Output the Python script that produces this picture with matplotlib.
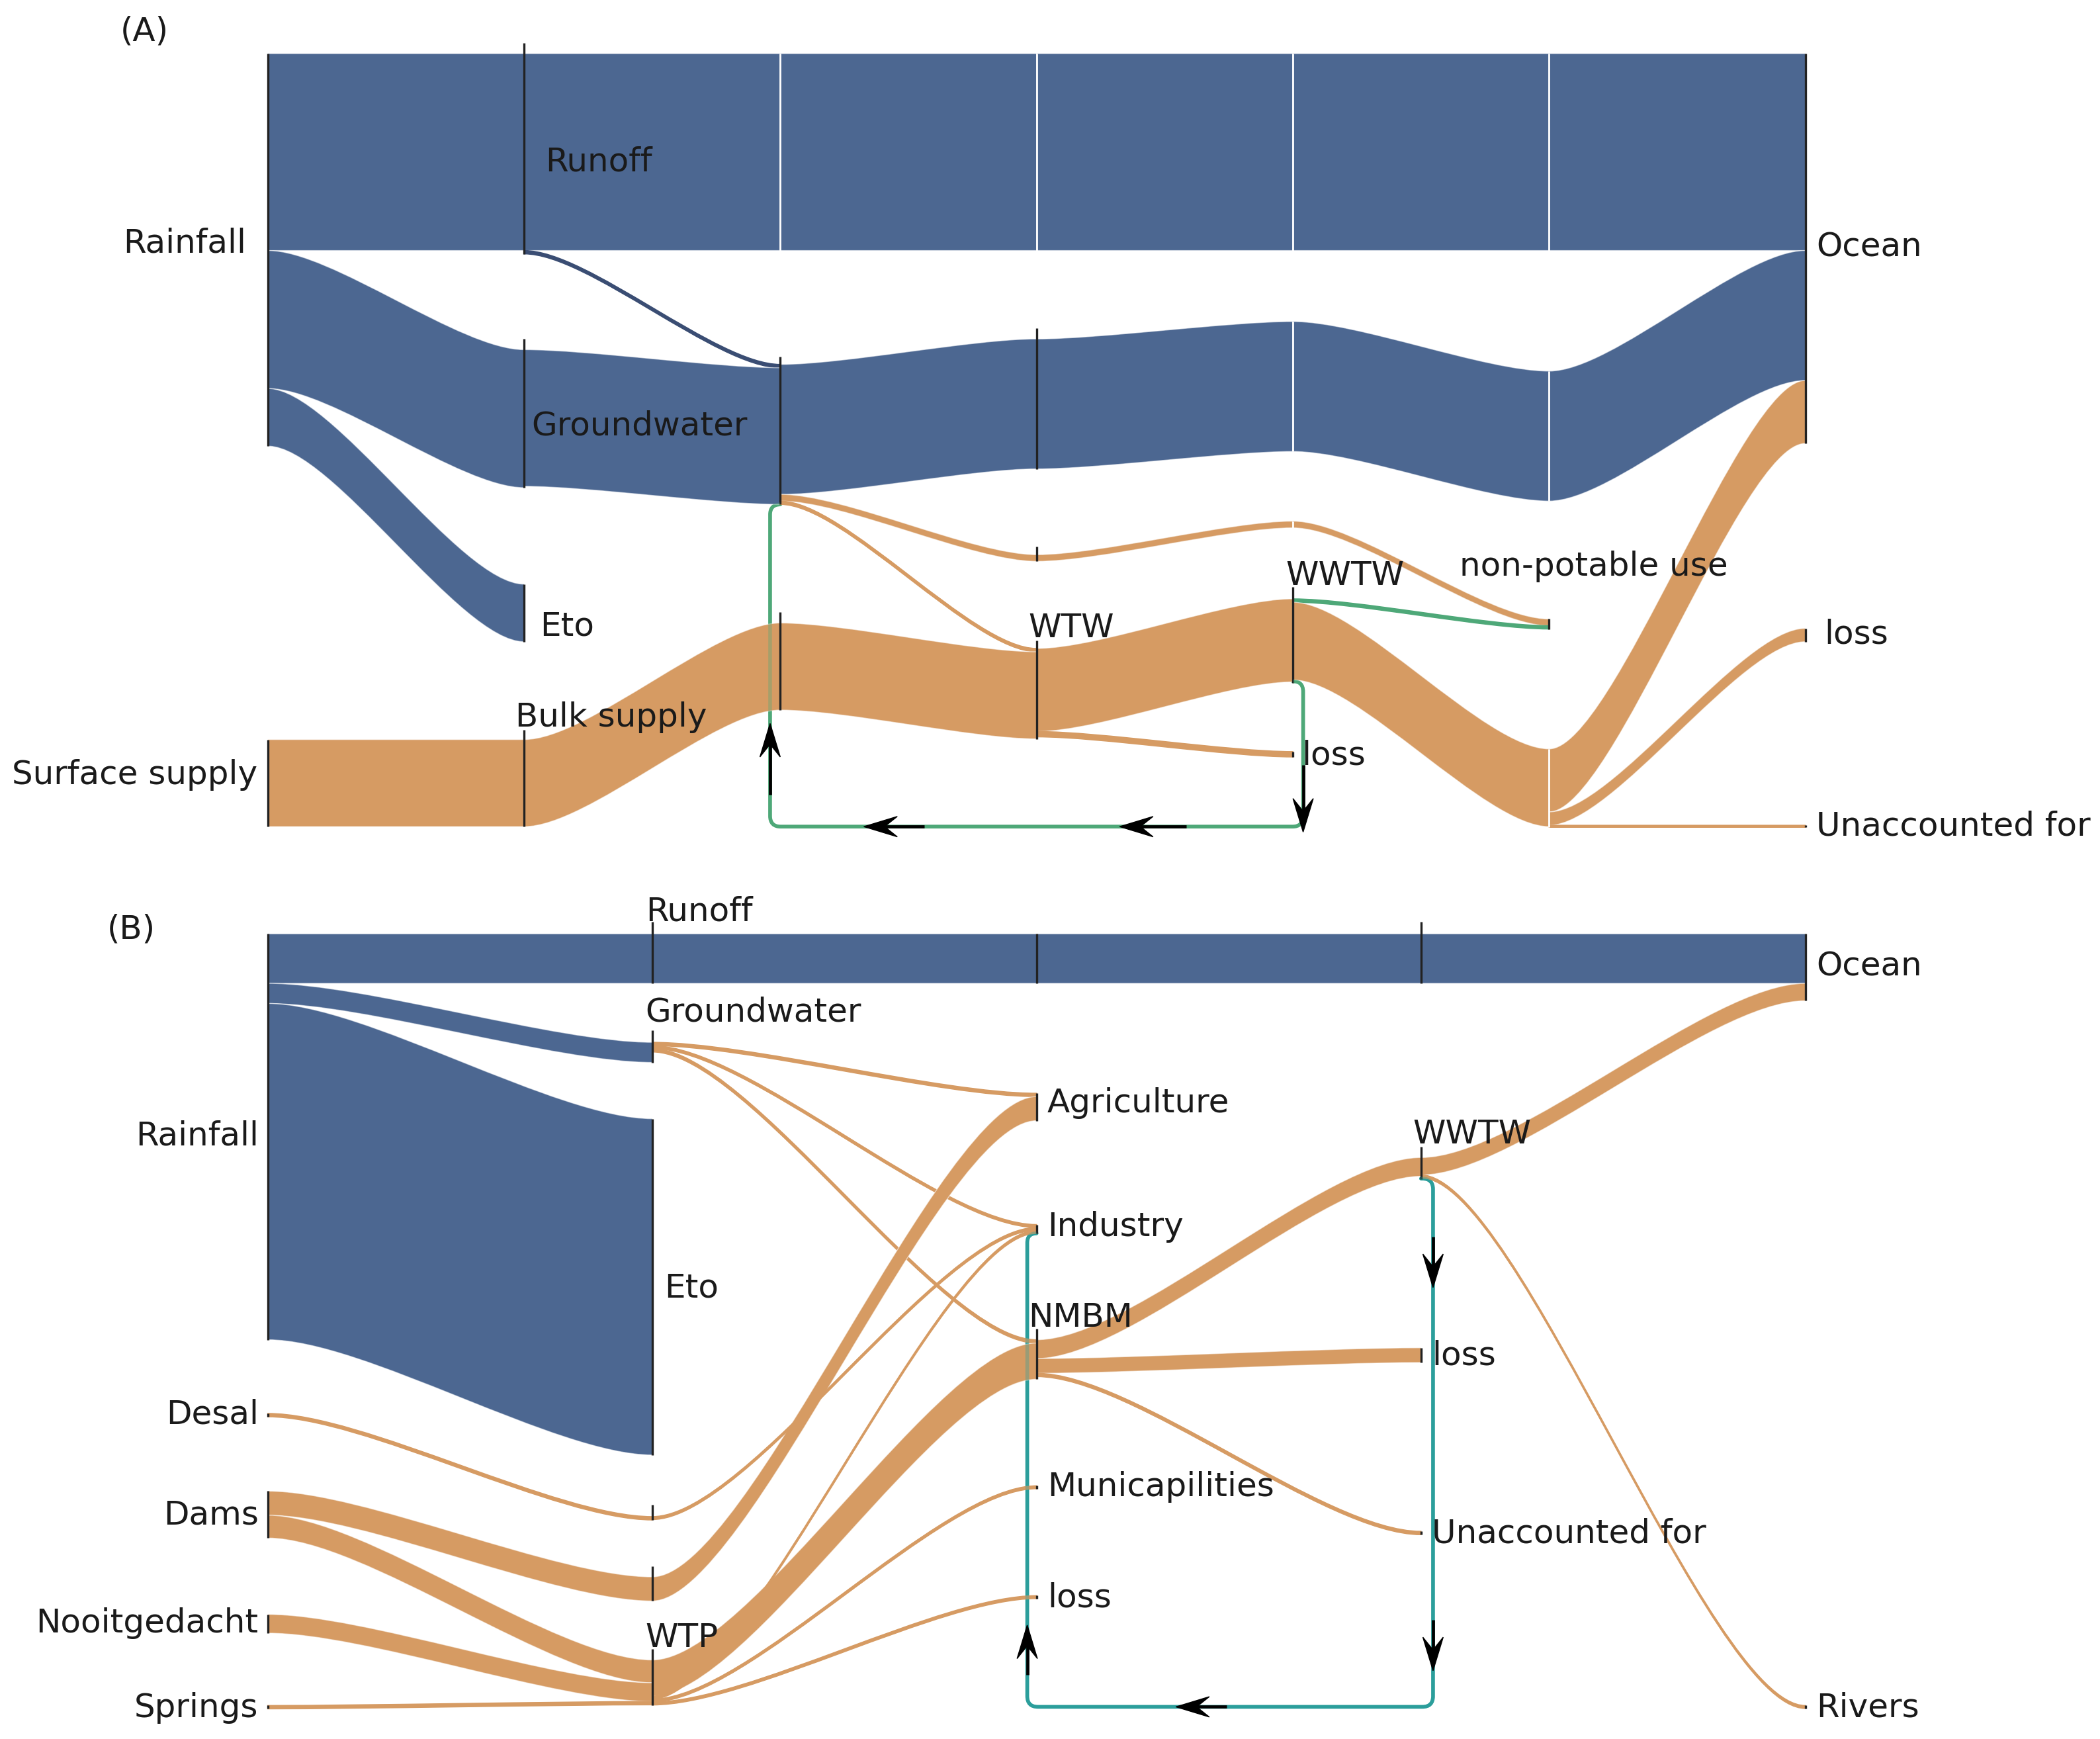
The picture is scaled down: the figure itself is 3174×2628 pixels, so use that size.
import numpy as np
import matplotlib
matplotlib.use("Agg")
import matplotlib.pyplot as plt
from matplotlib.path import Path
from matplotlib.patches import PathPatch, Polygon

plt.rcParams['font.family'] = ['DejaVu Sans', 'Noto Sans']

# ====================== DATA ======================
# ---- Panel (A): flows (source, target, value, kind) ----
a_src = ["rain", "rain", "rain", "runoff", "runoff", "r2", "r3", "r4", "r5",
         "gw", "g2", "g2", "g2", "g3", "g4", "g5", "o3", "o4",
         "surf", "bulk", "b2", "wtw", "wtw", "wwtw", "wwtw", "n5", "n5", "n5",
         "wwtw"]
a_tgt = ["runoff", "gw", "eto", "r2", "g2", "r3", "r4", "r5", "ocean",
         "g2", "g3", "o3", "wtw", "g4", "g5", "ocean", "o4", "npu",
         "bulk", "b2", "wtw", "wwtw", "loss1", "npu", "n5", "ocean", "loss2", "unacc",
         "g2"]
a_val = [147, 103, 43, 147, 2.5, 147, 147, 147, 147,
         102, 97, 5, 2.5, 97, 97, 97, 5, 5,
         65, 65, 65, 62, 4, 2.5, 58, 47, 10, 1.5,
         2]
a_kind = ["water", "water", "water", "water", "thin", "water", "water", "water", "water",
          "water", "water", "supply", "supply", "water", "water", "water", "supply", "supply",
          "supply", "supply", "supply", "supply", "supply", "recycle", "supply", "supply", "supply", "supply",
          "recycle_loop"]
a_names = {"rain": "Rainfall", "runoff": "Runoff", "gw": "Groundwater", "eto": "Eto",
           "surf": "Surface supply", "bulk": "Bulk supply", "wtw": "WTW", "wwtw": "WWTW",
           "npu": "non-potable use", "loss1": "loss", "ocean": "Ocean", "loss2": "loss",
           "unacc": "Unaccounted for"}

# ---- Panel (B): flows ----
b_src = ["rain", "rain", "rain", "runoff", "rb3", "rb4",
         "desal", "dams", "dams", "noo", "springs",
         "gw", "gw", "gw", "dm2", "d2",
         "wtp", "wtp", "wtp", "wtp",
         "nmbm", "nmbm", "nmbm", "wwtw", "wwtw",
         "wwtw"]
b_tgt = ["runoff", "gw", "eto", "rb3", "rb4", "ocean",
         "d2", "dm2", "wtp", "wtp", "wtp",
         "agr", "ind", "nmbm", "agr", "ind",
         "nmbm", "ind", "muni", "lossb1",
         "wwtw", "lossb2", "unacc", "ocean", "rivers",
         "ind"]
b_val = [37, 15, 251, 37, 37, 37,
         2.5, 18, 17, 14, 2.5,
         2.5, 2.2, 2.5, 18, 2.2,
         27, 2.2, 2.2, 2.2,
         14, 11, 2.5, 13, 2.2,
         1]
b_kind = ["water"] * 6 + ["supply"] * 19 + ["reuse_loop"]
b_names = {"rain": "Rainfall", "runoff": "Runoff", "gw": "Groundwater", "eto": "Eto",
           "desal": "Desal", "dams": "Dams", "noo": "Nooitgedacht", "springs": "Springs",
           "wtp": "WTP", "agr": "Agriculture", "ind": "Industry", "nmbm": "NMBM",
           "muni": "Municapilities", "lossb1": "loss", "wwtw": "WWTW", "lossb2": "loss",
           "unacc": "Unaccounted for", "ocean": "Ocean", "rivers": "Rivers"}

# ====================== LAYOUT / STYLE ======================
W, H = 1568, 1298
COLORS = {"water": "#4c6791", "thin": "#3a4d73", "supply": "#d69b63",
          "recycle": "#4ea878", "recycle_loop": "#4ea878", "reuse_loop": "#2b9e9b"}
D, Wt = "#222222", "white"
a_cols = np.linspace(200, 1348, 7)
b_cols = np.linspace(200, 1348, 5)

# node: (column, top, bar colour, bar extension above)
a_layout = {"rain": (0, 40, D, 0), "runoff": (1, 40, D, 8), "r2": (2, 40, Wt, 0),
            "r3": (3, 40, Wt, 0), "r4": (4, 40, Wt, 0), "r5": (5, 40, Wt, 0),
            "ocean": (6, 40, D, 0), "gw": (1, 261, D, 8), "g2": (2, 272, D, 6),
            "g3": (3, 253, D, 8), "g4": (4, 240, Wt, 0), "g5": (5, 277, Wt, 0),
            "eto": (1, 436, D, 0), "surf": (0, 552, D, 0), "bulk": (1, 552, D, 7),
            "b2": (2, 465, D, 8), "wtw": (3, 484, D, 6), "wwtw": (4, 447, D, 9),
            "n5": (5, 559, Wt, 0), "o3": (3, 414, D, 6), "o4": (4, 389, Wt, 0),
            "npu": (5, 462, D, 0), "loss1": (4, 561, D, 0), "loss2": (6, 469, D, 0),
            "unacc": (6, 616, D, 0)}
b_layout = {"rain": (0, 697, D, 0), "runoff": (1, 697, D, 9), "rb3": (2, 697, D, 0),
            "rb4": (3, 697, D, 9), "ocean": (4, 697, D, 0), "gw": (1, 778, D, 9),
            "eto": (1, 835, D, 0), "desal": (0, 1055, D, 0), "dams": (0, 1113, D, 0),
            "noo": (0, 1205, D, 0), "springs": (0, 1273, D, 0), "d2": (1, 1132, D, 9),
            "dm2": (1, 1177, D, 8), "wtp": (1, 1239, D, 8), "agr": (2, 816, D, 0),
            "ind": (2, 914, D, 0), "nmbm": (2, 1000, D, 8), "muni": (2, 1109, D, 0),
            "lossb1": (2, 1191, D, 0), "wwtw": (3, 864, D, 8), "lossb2": (3, 1006, D, 0),
            "unacc": (3, 1143, D, 0), "rivers": (4, 1273, D, 0)}

a_label_xy = {"rain": (184, 180, "right"), "runoff": (407, 119, "left"),
              "gw": (397, 316, "left"), "eto": (403, 466, "left"),
              "surf": (192, 577, "right"), "bulk": (385, 534, "left"),
              "wtw": (768, 467, "left"), "wwtw": (960, 428, "left"),
              "npu": (1090, 421, "left"), "loss1": (972, 562, "left"),
              "ocean": (1356, 183, "left"), "loss2": (1362, 472, "left"),
              "unacc": (1356, 615, "left")}
b_label_xy = {"rain": (193, 846, "right"), "runoff": (482, 679, "left"),
              "gw": (482, 754, "left"), "eto": (496, 960, "left"),
              "desal": (193, 1054, "right"), "dams": (193, 1129, "right"),
              "noo": (193, 1210, "right"), "springs": (193, 1273, "right"),
              "wtp": (482, 1221, "left"), "agr": (782, 822, "left"),
              "ind": (782, 914, "left"), "nmbm": (768, 982, "left"),
              "muni": (782, 1108, "left"), "lossb1": (782, 1191, "left"),
              "wwtw": (1055, 845, "left"), "lossb2": (1069, 1010, "left"),
              "unacc": (1069, 1143, "left"), "ocean": (1356, 720, "left"),
              "rivers": (1356, 1273, "left")}

a_loop_route = {("wwtw", "g2"): (973, 617, 575)}
b_loop_route = {("wwtw", "ind"): (1070, 1274, 767)}

a_arrows = [(575, 540, "up", 53), (973, 621, "down", 50),
            (645, 617, "left", 45), (836, 617, "left", 50)]
b_arrows = [(1070, 961, "down", 38), (1070, 1247, "down", 38),
            (878, 1274, "left", 38), (767, 1213, "up", 37)]

FS = 18
CURV = 0.25


def band_path(x0, y0a, y0b, x1, y1a, y1b, c):
    dx = (x1 - x0) * c
    verts = [(x0, y0a), (x0 + dx, y0a), (x1 - dx, y1a), (x1, y1a),
             (x1, y1b), (x1 - dx, y1b), (x0 + dx, y0b), (x0, y0b), (x0, y0a)]
    codes = [Path.MOVETO, Path.CURVE4, Path.CURVE4, Path.CURVE4,
             Path.LINETO, Path.CURVE4, Path.CURVE4, Path.CURVE4, Path.CLOSEPOLY]
    return Path(verts, codes)


def rounded_path(pts, r):
    verts = [pts[0]]
    codes = [Path.MOVETO]
    n = len(pts)
    for i in range(1, n - 1):
        p0, p1, p2 = (np.array(pts[i - 1], float), np.array(pts[i], float),
                      np.array(pts[i + 1], float))
        d1 = p1 - p0
        l1 = np.hypot(*d1)
        d2 = p2 - p1
        l2 = np.hypot(*d2)
        rr = min(r, l1 if i == 1 else l1 / 2, l2 if i == n - 2 else l2 / 2)
        a = p1 - d1 / l1 * rr
        b = p1 + d2 / l2 * rr
        verts += [tuple(a), tuple(p1), tuple(b)]
        codes += [Path.LINETO, Path.CURVE3, Path.CURVE3]
    verts.append(pts[-1])
    codes.append(Path.LINETO)
    return Path(verts, codes)


def draw_arrow(ax, x, y, direction, total, head=25, half=7.6, notch=0.62):
    ux, uy = {"up": (0, -1), "down": (0, 1), "left": (-1, 0), "right": (1, 0)}[direction]
    px, py = -uy, ux
    tail = (x - ux * total, y - uy * total)
    neck = (x - ux * head * notch, y - uy * head * notch)
    ax.plot([tail[0], neck[0]], [tail[1], neck[1]], color="black", lw=1.7,
            solid_capstyle="butt", zorder=6)
    back = (x - ux * head, y - uy * head)
    poly = [(x, y), (back[0] + px * half, back[1] + py * half), neck,
            (back[0] - px * half, back[1] - py * half)]
    ax.add_patch(Polygon(poly, closed=True, fc="black", ec="black", lw=0.5, zorder=6))


def draw_panel(ax, src, tgt, val, kind, layout, cols, loop_route, names, label_xy, arrows):
    nodes = list(layout.keys())
    insum = {n: 0.0 for n in nodes}
    outsum = {n: 0.0 for n in nodes}
    for s, t, v, k in zip(src, tgt, val, kind):
        outsum[s] += v
        if not k.endswith("_loop"):
            insum[t] += v
    height = {n: max(insum[n], outsum[n]) for n in nodes}
    out_off = {n: layout[n][1] for n in nodes}
    in_off = dict(out_off)
    loops = []
    for s, t, v, k in zip(src, tgt, val, kind):
        x0 = cols[layout[s][0]]
        x1 = cols[layout[t][0]]
        y0 = out_off[s]
        out_off[s] += v
        if k.endswith("_loop"):
            loops.append((s, t, v, k, x0, y0 + v / 2, x1))
            continue
        y1 = in_off[t]
        in_off[t] += v
        p = band_path(x0, y0, y0 + v, x1, y1, y1 + v, CURV)
        if v >= 5:
            ax.add_patch(PathPatch(p, fc=COLORS[k], ec=(1, 1, 1, 0.55), lw=0.5, zorder=2))
        else:
            ax.add_patch(PathPatch(p, fc=COLORS[k], ec=COLORS[k], lw=0.55, zorder=2))
    # node bars
    for n, (col, ytop, lc, ext) in layout.items():
        x = cols[col]
        h = max(height[n], 1.5)
        ax.plot([x, x], [ytop - ext, ytop + h], color=lc,
                lw=1.2 if lc != "white" else 1.0, solid_capstyle="butt", zorder=3)
    # recycle loops
    for s, t, v, k, x0, ys, x1 in loops:
        xr, ylow, xl = loop_route[(s, t)]
        ye = layout[t][1] + height[t]
        pts = [(x0, ys), (xr, ys), (xr, ylow), (xl, ylow), (xl, ye), (x1, ye)]
        p = rounded_path(pts, 8)
        ax.add_patch(PathPatch(p, fc="none", ec=COLORS[k], lw=2.0, zorder=1,
                               capstyle="round", joinstyle="round"))
        ax.add_patch(PathPatch(p, fc="none", ec=COLORS[k], lw=2.0, alpha=0.35, zorder=4))
    for (x, y, d, tot) in arrows:
        draw_arrow(ax, x, y, d, tot)
    # labels
    for n, (x, y, ha) in label_xy.items():
        ax.text(x, y + 8.5, names[n], ha=ha, va="baseline", fontsize=FS,
                color="#1a1a1a", zorder=7)


fig = plt.figure(figsize=(15.87, 13.14), dpi=200)
ax = fig.add_axes([0, 0, 1, 1])
ax.set_xlim(0, W)
ax.set_ylim(H, 0)
ax.axis("off")

draw_panel(ax, a_src, a_tgt, a_val, a_kind, a_layout, a_cols, a_loop_route,
           a_names, a_label_xy, a_arrows)
draw_panel(ax, b_src, b_tgt, b_val, b_kind, b_layout, b_cols, b_loop_route,
           b_names, b_label_xy, b_arrows)

ax.text(90, 22 + 8.5, "(A)", ha="left", va="baseline", fontsize=FS, color="#1a1a1a")
ax.text(80, 692 + 8.5, "(B)", ha="left", va="baseline", fontsize=FS, color="#1a1a1a")

fig.savefig("out.png", dpi=200, facecolor="white")
